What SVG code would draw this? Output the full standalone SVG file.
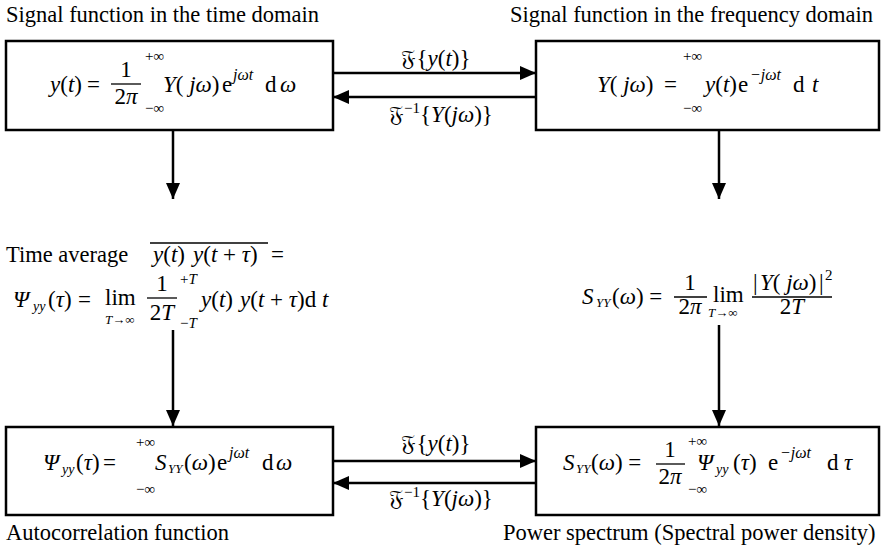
<svg xmlns="http://www.w3.org/2000/svg" width="885" height="552" viewBox="0 0 885 552">
<style>
text{font-family:'Liberation Serif','Times New Roman','DejaVu Serif',serif;fill:#000}
.l{font-size:22.5px}
.m{font-size:23px}
.i{font-style:italic}
.s{font-size:15px}
.b{font-size:14px}
.t{font-size:13px}
.u{font-size:16px}
.box{fill:#fff;stroke:#000;stroke-width:2.5}
.c{stroke:#000;stroke-width:2.5;fill:none}
.fr{stroke:#000;stroke-width:1.3}
</style>
<defs>
<marker id="ah" markerUnits="userSpaceOnUse" markerWidth="16" markerHeight="14" refX="16" refY="7" orient="auto">
<path d="M0,0 L16,7 L0,14 z" fill="#000"/>
</marker>
</defs>

<text class="l" x="6" y="22">Signal function in the time domain</text>
<text class="l" x="510" y="22">Signal function in the frequency domain</text>
<text class="l" x="6" y="540">Autocorrelation function</text>
<text class="l" x="503" y="540">Power spectrum (Spectral power density)</text>

<g id="connectors">
<line class="c" x1="333" y1="73" x2="536" y2="73" marker-end="url(#ah)"/>
<line class="c" x1="536" y1="97" x2="333" y2="97" marker-end="url(#ah)"/>
<line class="c" x1="333" y1="461" x2="536" y2="461" marker-end="url(#ah)"/>
<line class="c" x1="536" y1="483" x2="333" y2="483" marker-end="url(#ah)"/>
<line class="c" x1="173" y1="130" x2="173" y2="199" marker-end="url(#ah)"/>
<line class="c" x1="719" y1="130" x2="719" y2="199" marker-end="url(#ah)"/>
<line class="c" x1="173" y1="330" x2="173" y2="426" marker-end="url(#ah)"/>
<line class="c" x1="719" y1="325" x2="719" y2="426" marker-end="url(#ah)"/>
<text class="m" x="436" y="66" text-anchor="middle">𝔉{<tspan class="i">y</tspan>(<tspan class="i">t</tspan>)}</text>
<text class="m" x="441" y="122" text-anchor="middle">𝔉<tspan class="s" dy="-9">−1</tspan><tspan dy="9">{</tspan><tspan class="i">Y</tspan>(<tspan class="i">jω</tspan>)}</text>
<text class="m" x="436" y="451" text-anchor="middle">𝔉{<tspan class="i">y</tspan>(<tspan class="i">t</tspan>)}</text>
<text class="m" x="441" y="506" text-anchor="middle">𝔉<tspan class="s" dy="-9">−1</tspan><tspan dy="9">{</tspan><tspan class="i">Y</tspan>(<tspan class="i">jω</tspan>)}</text>
</g>

<g id="time">
<rect class="box" x="6" y="41" width="327" height="89"/>
<text class="m" x="50" y="92"><tspan class="i">y</tspan>(<tspan class="i">t</tspan>)</text>
<text class="m" x="87" y="92">=</text>
<text class="m" x="126" y="77" text-anchor="middle">1</text>
<line class="fr" x1="111" y1="84" x2="141" y2="84"/>
<text class="m" x="126" y="104" text-anchor="middle">2<tspan class="i">π</tspan></text>
<text class="s" x="145" y="61">+∞</text>
<text class="s" x="145" y="113">−∞</text>
<text class="m" x="163" y="92"><tspan class="i">Y</tspan>( <tspan class="i">jω</tspan>)</text>
<text class="m" x="222" y="92">e</text>
<text class="u i" x="233" y="80">jωt</text>
<text class="m" x="265" y="92">d</text>
<text class="m i" x="280" y="92">ω</text>
</g>

<g id="frequency">
<rect class="box" x="536" y="41" width="343" height="89"/>
<text class="m" x="597" y="92"><tspan class="i">Y</tspan>( <tspan class="i">jω</tspan>)</text>
<text class="m" x="664" y="92">=</text>
<text class="s" x="683" y="61">+∞</text>
<text class="s" x="683" y="113">−∞</text>
<text class="m" x="705" y="92"><tspan class="i">y</tspan>(<tspan class="i">t</tspan>)</text>
<text class="m" x="738" y="92">e</text>
<text class="u i" x="750" y="80">−jωt</text>
<text class="m" x="793" y="92">d</text>
<text class="m i" x="812" y="92">t</text>
</g>

<g id="timeaverage">
<text class="l" x="6" y="262">Time average</text>
<line class="fr" x1="150" y1="243" x2="268" y2="243"/>
<text class="m" x="153" y="262"><tspan class="i">y</tspan>(<tspan class="i">t</tspan>)</text>
<text class="m" x="193" y="262"><tspan class="i">y</tspan>(<tspan class="i">t</tspan> + <tspan class="i">τ</tspan>)</text>
<text class="m" x="271" y="262">=</text>
<text class="m i" x="13" y="307">Ψ</text>
<text class="b i" x="33" y="311">yy</text>
<text class="m" x="48" y="307">(<tspan class="i">τ</tspan>)</text>
<text class="m" x="78" y="307">=</text>
<text class="m" x="105" y="305">lim</text>
<text class="t" x="105" y="324"><tspan class="i">T</tspan>→∞</text>
<text class="m" x="162" y="291" text-anchor="middle">1</text>
<line class="fr" x1="147" y1="298" x2="177" y2="298"/>
<text class="m" x="162" y="320" text-anchor="middle">2<tspan class="i">T</tspan></text>
<text class="s" x="180" y="284">+<tspan class="i">T</tspan></text>
<text class="s" x="180" y="328">−<tspan class="i">T</tspan></text>
<text class="m" x="201" y="307"><tspan class="i">y</tspan>(<tspan class="i">t</tspan>)</text>
<text class="m" x="240" y="307"><tspan class="i">y</tspan>(<tspan class="i">t</tspan> + <tspan class="i">τ</tspan>)d</text>
<text class="m i" x="322" y="307">t</text>
</g>

<g id="periodogram">
<text class="m i" x="582" y="304">S</text>
<text class="t i" x="596" y="307">YY</text>
<text class="m" x="612" y="304">(<tspan class="i">ω</tspan>) =</text>
<text class="m" x="690" y="290" text-anchor="middle">1</text>
<line class="fr" x1="674" y1="297" x2="707" y2="297"/>
<text class="m" x="690" y="314" text-anchor="middle">2<tspan class="i">π</tspan></text>
<text class="m" x="713" y="302">lim</text>
<text class="t" x="708" y="317"><tspan class="i">T</tspan>→∞</text>
<text class="m" x="753" y="290">|</text>
<text class="m" x="760" y="290"><tspan class="i">Y</tspan>( <tspan class="i">jω</tspan>)</text>
<text class="m" x="819" y="290">|</text>
<text class="s" x="825" y="280">2</text>
<line class="fr" x1="752" y1="297" x2="832" y2="297"/>
<text class="m" x="792" y="314" text-anchor="middle">2<tspan class="i">T</tspan></text>
</g>

<g id="autocorrelation">
<rect class="box" x="6" y="427" width="327" height="88"/>
<text class="m i" x="43" y="470">Ψ</text>
<text class="b i" x="62" y="474">yy</text>
<text class="m" x="76" y="470">(<tspan class="i">τ</tspan>)</text>
<text class="m" x="103" y="470">=</text>
<text class="s" x="136" y="447">+∞</text>
<text class="s" x="136" y="494">−∞</text>
<text class="m i" x="155" y="470">S</text>
<text class="t i" x="168" y="473">YY</text>
<text class="m" x="184" y="470">(<tspan class="i">ω</tspan>)</text>
<text class="m" x="217" y="470">e</text>
<text class="u i" x="229" y="458">jωt</text>
<text class="m" x="262" y="470">d</text>
<text class="m i" x="276" y="470">ω</text>
</g>

<g id="powerspectrum">
<rect class="box" x="536" y="427" width="343" height="88"/>
<text class="m i" x="563" y="470">S</text>
<text class="t i" x="576" y="473">YY</text>
<text class="m" x="591" y="470">(<tspan class="i">ω</tspan>) =</text>
<text class="m" x="670" y="457" text-anchor="middle">1</text>
<line class="fr" x1="656" y1="464" x2="685" y2="464"/>
<text class="m" x="670" y="484" text-anchor="middle">2<tspan class="i">π</tspan></text>
<text class="s" x="688" y="446">+∞</text>
<text class="s" x="688" y="494">−∞</text>
<text class="m i" x="697" y="470">Ψ</text>
<text class="b i" x="716" y="474">yy</text>
<text class="m" x="733" y="470">(<tspan class="i">τ</tspan>)</text>
<text class="m" x="768" y="470">e</text>
<text class="u i" x="780" y="458">−jωt</text>
<text class="m" x="827" y="470">d</text>
<text class="m i" x="844" y="470">τ</text>
</g>
</svg>
